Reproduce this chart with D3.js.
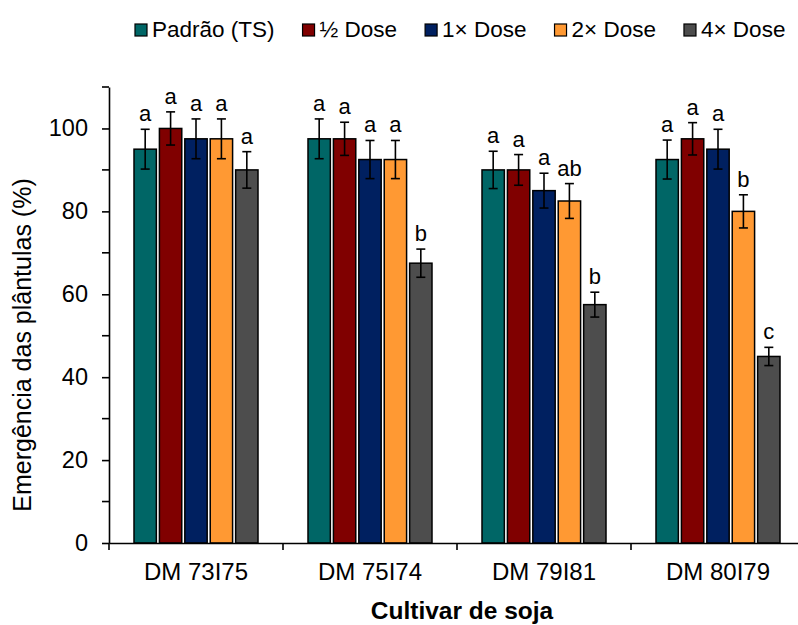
<!DOCTYPE html>
<html>
  <head>
    <meta charset="utf-8">
    <title>Emergência das plântulas</title>
    <script src="https://d3js.org/d3.v7.min.js"></script>
    <style>
      body { margin: 0; background: #fff; }
      text { font-family: "Liberation Sans", Arial, sans-serif; fill: #000; }
    </style>
  </head>
  <body>
<script>

// Data
var cultivars = ["DM 73I75", "DM 75I74", "DM 79I81", "DM 80I79"];
var series = ["Padrão (TS)", "½ Dose", "1× Dose", "2× Dose", "4× Dose"];
var colors = ["#006666", "#800000", "#002060", "#ff9933", "#4d4d4d"];

// emergence (%) per series, one value per cultivar
var padrao = [95, 97.5, 90, 92.5];
var meia   = [100, 97.5, 90, 97.5];
var uma    = [97.5, 92.5, 85, 95];
var duas   = [97.5, 92.5, 82.5, 80];
var quatro = [90, 67.5, 57.5, 45];

// error bar half-lengths
var errPadrao = [4.8, 4.8, 4.5, 4.7];
var errMeia   = [4, 4, 3.7, 3.9];
var errUma    = [4.8, 4.6, 4.2, 4.8];
var errDuas   = [4.8, 4.6, 4.2, 4];
var errQuatro = [4.4, 3.4, 3, 2.2];

// letters of the mean comparison test
var letPadrao = ["a", "a", "a", "a"];
var letMeia   = ["a", "a", "a", "a"];
var letUma    = ["a", "a", "a", "a"];
var letDuas   = ["a", "a", "ab", "b"];
var letQuatro = ["a", "b", "b", "c"];

var yTicks = [0, 20, 40, 60, 80, 100];
var yMinor = [10, 30, 50, 70, 90, 110];

var values = [padrao, meia, uma, duas, quatro];
var errors = [errPadrao, errMeia, errUma, errDuas, errQuatro];
var letters = [letPadrao, letMeia, letUma, letDuas, letQuatro];

var rows = [];
series.forEach(function(s, i) {
  cultivars.forEach(function(c, j) {
    rows.push({ serie: s, idx: i, cultivar: c, value: values[i][j], err: errors[i][j], letter: letters[i][j] });
  });
});

var W = 798, H = 625;
var svg = d3.select("body").append("svg")
    .attr("width", W)
    .attr("height", H);

// scales
var x = d3.scaleBand().domain(cultivars).range([109, 805]).padding(0);
var xs = d3.scaleBand().domain(series).range([25, 149]).paddingInner(0.12);
var y = d3.scaleLinear().domain([0, 110]).range([543, 87]);

// bars
var bars = svg.append("g");
bars.selectAll("rect")
    .data(rows)
    .enter().append("rect")
    .attr("x", function(d) { return x(d.cultivar) + xs(d.serie); })
    .attr("y", function(d) { return y(d.value); })
    .attr("width", xs.bandwidth())
    .attr("height", function(d) { return y(0) - y(d.value); })
    .style("fill", function(d) { return colors[d.idx]; })
    .style("stroke", "#000")
    .style("stroke-width", 1.5);

// error bars
var eb = svg.append("g").style("stroke", "#000").style("stroke-width", 1.6);
rows.forEach(function(d) {
  var cx = x(d.cultivar) + xs(d.serie) + xs.bandwidth() / 2;
  eb.append("line").attr("x1", cx).attr("x2", cx)
    .attr("y1", y(d.value + d.err)).attr("y2", y(d.value - d.err));
  eb.append("line").attr("x1", cx - 4.5).attr("x2", cx + 4.5)
    .attr("y1", y(d.value + d.err)).attr("y2", y(d.value + d.err));
  eb.append("line").attr("x1", cx - 4.5).attr("x2", cx + 4.5)
    .attr("y1", y(d.value - d.err)).attr("y2", y(d.value - d.err));
});

// letters above the bars
svg.append("g").selectAll("text")
    .data(rows)
    .enter().append("text")
    .attr("x", function(d) { return x(d.cultivar) + xs(d.serie) + xs.bandwidth() / 2; })
    .attr("y", function(d) { return y(d.value + d.err) - 8; })
    .style("text-anchor", "middle")
    .style("font-size", "22px")
    .text(function(d) { return d.letter; });

// Y axis
var yAxis = svg.append("g")
    .attr("transform", "translate(109,0)")
    .call(d3.axisLeft(y).tickValues(yTicks).tickSize(7).tickSizeOuter(0).tickPadding(14));
yAxis.select(".domain").style("stroke-width", 1.6);
yAxis.selectAll(".tick line").style("stroke-width", 1.6);
yAxis.selectAll("text").style("font-size", "23.5px");

svg.append("g").selectAll("line")
    .data(yMinor)
    .enter().append("line")
    .attr("x1", 102).attr("x2", 109)
    .attr("y1", function(d) { return y(d); })
    .attr("y2", function(d) { return y(d); })
    .style("stroke", "#000")
    .style("stroke-width", 1.6);

// X axis
var xAxis = svg.append("g")
    .attr("transform", "translate(0,543)")
    .call(d3.axisBottom(x).tickSize(0).tickPadding(20));
xAxis.select(".domain").style("stroke-width", 1.6);
xAxis.selectAll("text").style("font-size", "24px");

// tick marks between cultivars
svg.append("g").selectAll("line")
    .data(cultivars)
    .enter().append("line")
    .attr("x1", function(d) { return x(d); })
    .attr("x2", function(d) { return x(d); })
    .attr("y1", 543).attr("y2", 550)
    .style("stroke", "#000")
    .style("stroke-width", 1.6);

// axis titles
svg.append("text")
    .attr("transform", "translate(31,345) rotate(-90)")
    .style("text-anchor", "middle")
    .style("font-size", "25px")
    .text("Emergência das plântulas (%)");

svg.append("text")
    .attr("x", 462)
    .attr("y", 619)
    .style("text-anchor", "middle")
    .style("font-size", "24.5px")
    .style("font-weight", "bold")
    .text("Cultivar de soja");

// legend
var lx = 135;
series.forEach(function(s, i) {
  var g = svg.append("g").attr("transform", "translate(" + lx + ",0)");
  g.append("rect")
    .attr("x", 0).attr("y", 24)
    .attr("width", 12).attr("height", 12)
    .style("fill", colors[i])
    .style("stroke", "#000")
    .style("stroke-width", 1.2);
  var t = g.append("text")
    .attr("x", 17).attr("y", 37)
    .style("font-size", "22.5px")
    .text(s);
  lx += 17 + t.node().getComputedTextLength() + 28;
});

</script>
  </body>
</html>
